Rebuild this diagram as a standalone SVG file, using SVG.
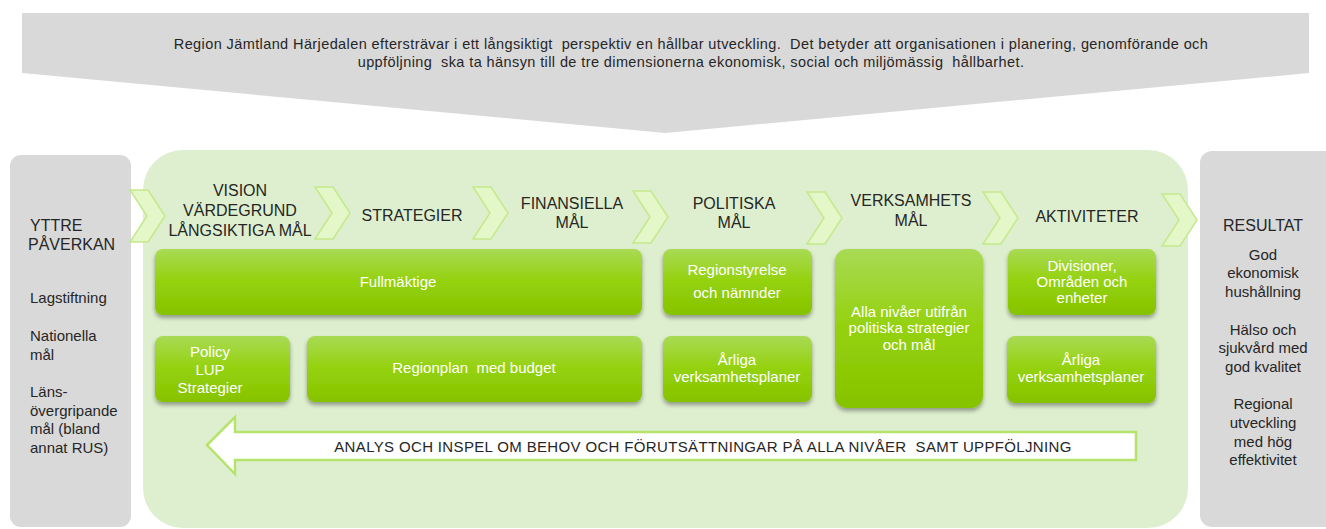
<svg xmlns="http://www.w3.org/2000/svg" width="1326" height="529" viewBox="0 0 1326 529">
<defs>
<linearGradient id="gbox" x1="0" y1="0" x2="0" y2="1">
<stop offset="0" stop-color="#a9da55"/>
<stop offset="0.5" stop-color="#94d10c"/>
<stop offset="1" stop-color="#86c300"/>
</linearGradient>
<filter id="sh" x="-10%" y="-10%" width="120%" height="130%">
<feDropShadow dx="0" dy="3" stdDeviation="2" flood-color="#000" flood-opacity="0.35"/>
</filter>
<polygon id="chev" points="0,0 18,0 35,26 18,52 0,52 17,26"/>
</defs>
<style>
text{font-family:"Liberation Sans",Arial,sans-serif;fill:#262626;white-space:pre}
.top{font-size:14.5px;letter-spacing:0.4px;text-anchor:middle}
.hd{font-size:16px;text-anchor:middle}
.hl{font-size:16px}
.lt{font-size:15px}
.rt{font-size:15px;text-anchor:middle}
.bx{font-size:15px;fill:#ffffff;text-anchor:middle}
.box{fill:url(#gbox);filter:url(#sh)}
.chev{fill:#e4f7c8;stroke:#c4e98c;stroke-width:1.5}
.gray{fill:#d9d9d9}
.fb{font-size:15px;letter-spacing:0.35px;text-anchor:middle}
</style>

<g id="banner">
<polygon class="gray" points="22,13 1309,13 1309,73 665,133 22,73"/>
<text class="top" x="691" y="49" xml:space="preserve">Region Jämtland Härjedalen eftersträvar i ett långsiktigt  perspektiv en hållbar utveckling.  Det betyder att organisationen i planering, genomförande och</text>
<text class="top" x="691" y="67" xml:space="preserve">uppföljning  ska ta hänsyn till de tre dimensionerna ekonomisk, social och miljömässig  hållbarhet.</text>
</g>

<g id="yttre">
<rect class="gray" x="10" y="155" width="121" height="372" rx="11"/>
<text class="hl" x="30" y="231">YTTRE</text>
<text class="hl" x="28" y="250">PÅVERKAN</text>
<text class="lt" x="30" y="303">Lagstiftning</text>
<text class="lt" x="30" y="341">Nationella</text>
<text class="lt" x="30" y="360">mål</text>
<text class="lt" x="30" y="397">Läns-</text>
<text class="lt" x="30" y="416">övergripande</text>
<text class="lt" x="30" y="434">mål (bland</text>
<text class="lt" x="30" y="453">annat RUS)</text>
</g>

<g id="process">
<rect x="143" y="150" width="1045" height="378" rx="40" fill="#deefcf"/>
</g>

<g id="resultat">
<rect class="gray" x="1200" y="151" width="140" height="376" rx="12"/>
<text class="hd" x="1263" y="231">RESULTAT</text>
<text class="rt" x="1263" y="260">God</text>
<text class="rt" x="1263" y="278">ekonomisk</text>
<text class="rt" x="1263" y="297">hushållning</text>
<text class="rt" x="1263" y="335">Hälso och</text>
<text class="rt" x="1263" y="353">sjukvård med</text>
<text class="rt" x="1263" y="372">god kvalitet</text>
<text class="rt" x="1263" y="409">Regional</text>
<text class="rt" x="1263" y="428">utveckling</text>
<text class="rt" x="1263" y="447">med hög</text>
<text class="rt" x="1263" y="465">effektivitet</text>
</g>

<g id="connectors">
<use href="#chev" class="chev" x="130" y="190"/>
<use href="#chev" class="chev" x="315" y="187"/>
<use href="#chev" class="chev" x="473" y="187"/>
<use href="#chev" class="chev" x="633" y="191"/>
<use href="#chev" class="chev" x="807" y="192"/>
<use href="#chev" class="chev" x="983" y="192"/>
<use href="#chev" class="chev" x="1162" y="194"/>
</g>

<g id="headers">
<text class="hd" x="240" y="196">VISION</text>
<text class="hd" x="240" y="216">VÄRDEGRUND</text>
<text class="hd" x="240" y="236" xml:space="preserve">LÅNGSIKTIGA MÅL</text>
<text class="hd" x="412" y="221">STRATEGIER</text>
<text class="hd" x="572" y="209">FINANSIELLA</text>
<text class="hd" x="572" y="228">MÅL</text>
<text class="hd" x="734" y="209">POLITISKA</text>
<text class="hd" x="734" y="228">MÅL</text>
<text class="hd" x="911" y="206">VERKSAMHETS</text>
<text class="hd" x="911" y="226">MÅL</text>
<text class="hd" x="1087" y="222">AKTIVITETER</text>
</g>

<g id="fullmaktige">
<rect class="box" x="155" y="249" width="487" height="66" rx="8"/>
<text class="bx" x="398" y="287">Fullmäktige</text>
</g>
<g id="regionstyrelse">
<rect class="box" x="663" y="249" width="149" height="66" rx="8"/>
<text class="bx" x="737" y="275">Regionstyrelse</text>
<text class="bx" x="737" y="298">och nämnder</text>
</g>
<g id="alla-nivaer">
<rect class="box" x="835" y="249" width="148" height="159" rx="12"/>
<text class="bx" x="909" y="317">Alla nivåer utifrån</text>
<text class="bx" x="909" y="333">politiska strategier</text>
<text class="bx" x="909" y="350">och mål</text>
</g>
<g id="divisioner">
<rect class="box" x="1008" y="249" width="148" height="66" rx="8"/>
<text class="bx" x="1082" y="271">Divisioner,</text>
<text class="bx" x="1082" y="287">Områden och</text>
<text class="bx" x="1082" y="303">enheter</text>
</g>
<g id="policy">
<rect class="box" x="155" y="336" width="135" height="66" rx="8"/>
<text class="bx" x="210" y="357">Policy</text>
<text class="bx" x="210" y="375">LUP</text>
<text class="bx" x="210" y="393">Strategier</text>
</g>
<g id="regionplan">
<rect class="box" x="307" y="336" width="335" height="66" rx="8"/>
<text class="bx" x="474" y="373" xml:space="preserve">Regionplan  med budget</text>
</g>
<g id="arliga-1">
<rect class="box" x="663" y="336" width="149" height="66" rx="8"/>
<text class="bx" x="737" y="365">Årliga</text>
<text class="bx" x="737" y="382">verksamhetsplaner</text>
</g>
<g id="arliga-2">
<rect class="box" x="1007" y="336" width="149" height="67" rx="8"/>
<text class="bx" x="1081" y="365">Årliga</text>
<text class="bx" x="1081" y="382">verksamhetsplaner</text>
</g>

<g id="feedback">
<polygon points="207,445 235,417 235,432 1136,432 1136,460 235,460 235,474" fill="#ffffff" stroke="#b6e36b" stroke-width="2.5"/>
<text class="fb" x="703" y="452" xml:space="preserve">ANALYS OCH INSPEL OM BEHOV OCH FÖRUTSÄTTNINGAR PÅ ALLA NIVÅER  SAMT UPPFÖLJNING</text>
</g>
</svg>
